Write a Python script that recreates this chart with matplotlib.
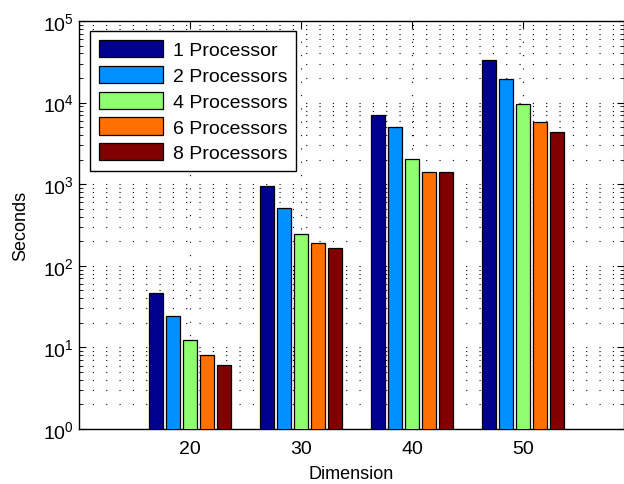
import numpy as np
import matplotlib
matplotlib.use("Agg")
import matplotlib.pyplot as plt

plt.rcParams['font.family'] = ['Liberation Sans', 'DejaVu Sans']
plt.rcParams['mathtext.fontset'] = 'custom'
plt.rcParams['mathtext.rm'] = 'Liberation Sans'
plt.rcParams['mathtext.it'] = 'Liberation Sans'

dimensions = [20, 30, 40, 50]
labels = ["1 Processor", "2 Processors", "4 Processors", "6 Processors", "8 Processors"]
p1 = [46, 957, 7050, 33300]
p2 = [24.5, 507, 5070, 19450]
p4 = [12.3, 245, 2055, 9610]
p6 = [8.1, 189, 1410, 5830]
p8 = [6.1, 164, 1410, 4330]
series = [p1, p2, p4, p6, p8]
colors = ["#00008F", "#0090FF", "#8FFF70", "#FF7000", "#800000"]

fig = plt.figure(figsize=(6.24, 4.85), dpi=100)
ax = fig.add_axes([79/624, 1-430/485, 545/624, 408/485])

step, width = 1.53, 1.28
xs = np.array(dimensions, dtype=float)
for i, (vals, c, lab) in enumerate(zip(series, colors, labels)):
    ax.bar(xs + (i-2)*step, vals, width=width, color=c, edgecolor='black',
           linewidth=0.9, label=lab, zorder=3)

ax.set_yscale("log")
ax.set_ylim(1, 1e5)
ax.set_xlim(10, 59.1)
ax.set_xticks(dimensions)
ax.set_yticks([1, 10, 100, 1e3, 1e4, 1e5])

dot = (0, (1, 11))
ax.grid(True, which='major', axis='both', color='black', linestyle=dot, linewidth=0.8)
ax.grid(True, which='minor', axis='y', color='black', linestyle=dot, linewidth=0.8)
ax.set_axisbelow(True)

ax.tick_params(which='both', direction='in', top=True, right=True, labelsize=14)
ax.tick_params(which='major', length=5)
ax.tick_params(which='minor', length=3)
ax.tick_params(axis='x', which='minor', bottom=False, top=False)
ax.tick_params(axis='x', pad=8)
ax.set_xlabel("Dimension", fontsize=13, labelpad=6)
ax.set_ylabel("Seconds", fontsize=13, labelpad=10)
for s in ax.spines.values():
    s.set_linewidth(1.0)

leg = ax.legend(loc='upper left', bbox_to_anchor=(0.02, 0.975), fontsize=14,
                frameon=True, fancybox=False, edgecolor='black', framealpha=1,
                handlelength=3.3, handleheight=1.0, borderpad=0.45, labelspacing=0.33,
                handletextpad=0.5, borderaxespad=0)
leg.get_frame().set_linewidth(1.0)

fig.savefig("out.png", dpi=100)
